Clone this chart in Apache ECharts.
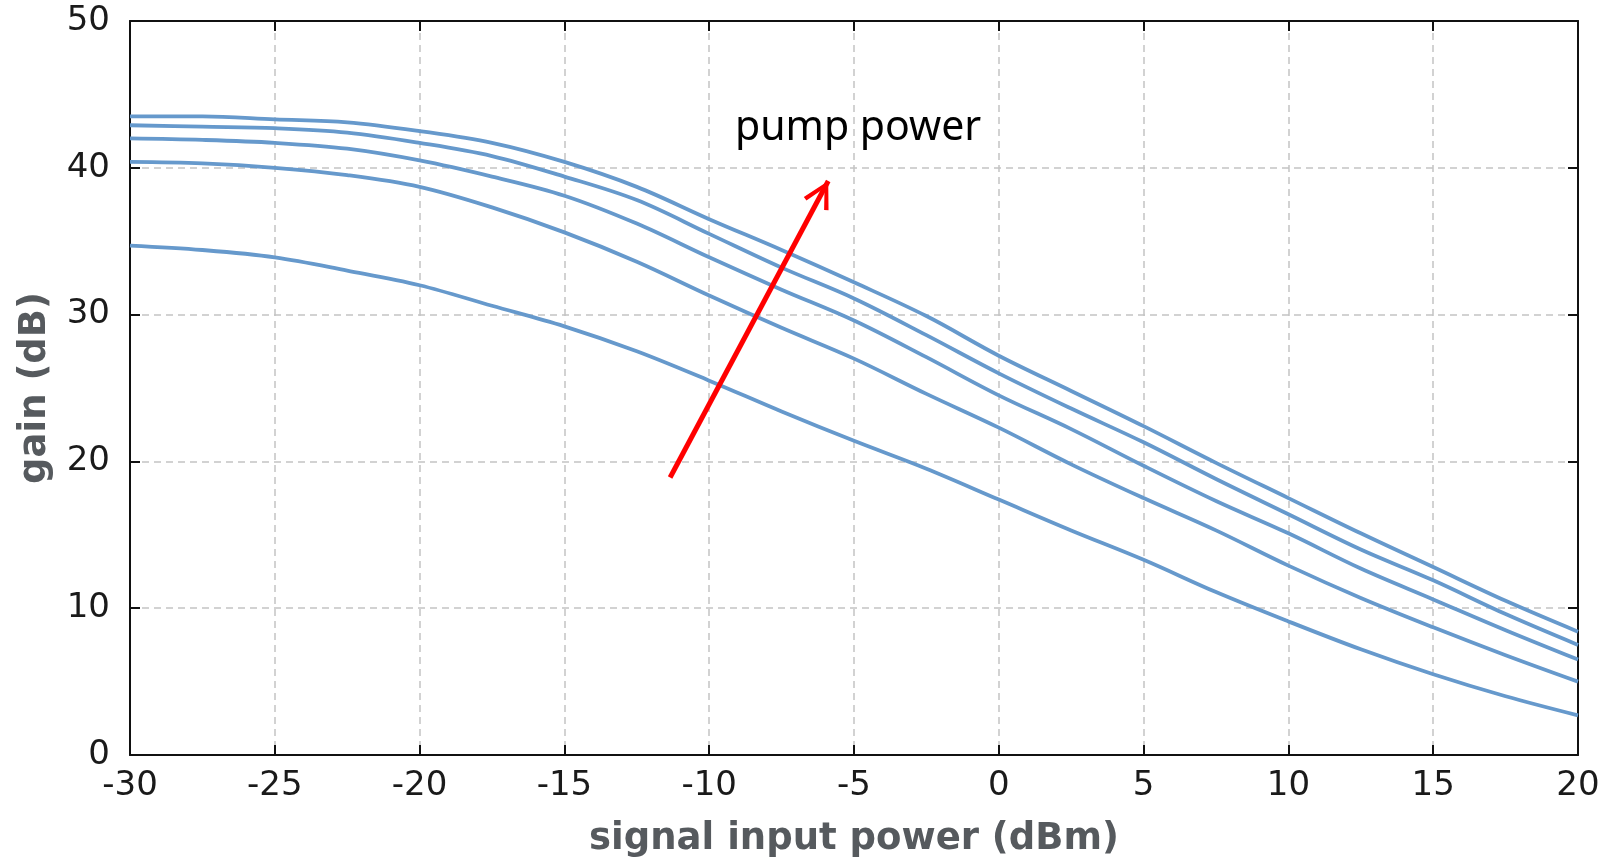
<!DOCTYPE html>
<html>
<head>
<meta charset="utf-8">
<script src="https://cdn.jsdelivr.net/npm/echarts@6/dist/echarts.min.js"></script>
<style>
html,body{margin:0;padding:0;background:#fff;}
#chart{width:1614px;height:863px;}
</style>
</head>
<body>
<div id="chart"></div>
<script>
// signal input power (dBm)
var inputPower = [-30, -27.5, -25, -22.5, -20, -17.5, -15, -12.5, -10, -7.5, -5, -2.5, 0, 2.5, 5, 7.5, 10, 12.5, 15, 17.5, 20];
// gain (dB) curves, from highest pump power to lowest
var gainPump5 = [43.5, 43.5, 43.3, 43.1, 42.5, 41.7, 40.4, 38.7, 36.5, 34.4, 32.2, 29.9, 27.2, 24.8, 22.4, 19.9, 17.5, 15.1, 12.8, 10.5, 8.4];
var gainPump4 = [42.9, 42.8, 42.7, 42.4, 41.7, 40.8, 39.4, 37.8, 35.5, 33.2, 31.1, 28.6, 26.0, 23.6, 21.3, 18.8, 16.4, 14.0, 11.9, 9.6, 7.5];
var gainPump3 = [42.0, 41.9, 41.7, 41.3, 40.5, 39.4, 38.1, 36.2, 33.9, 31.7, 29.6, 27.1, 24.5, 22.2, 19.7, 17.3, 15.1, 12.7, 10.6, 8.5, 6.5];
var gainPump2 = [40.4, 40.3, 40.0, 39.5, 38.7, 37.3, 35.6, 33.6, 31.3, 29.1, 27.0, 24.6, 22.3, 19.8, 17.5, 15.3, 12.9, 10.7, 8.7, 6.8, 5.0];
var gainPump1 = [34.7, 34.4, 33.9, 33.0, 32.0, 30.6, 29.2, 27.5, 25.5, 23.4, 21.4, 19.5, 17.4, 15.3, 13.3, 11.1, 9.1, 7.2, 5.5, 4.0, 2.7];
// arrow annotation (data coordinates): tail -> head
var arrowTail = [-11.35, 18.9];
var arrowHead = [-5.89, 39.1];
var annotationText = 'pump power';
var xTitle = 'signal input power (dBm)';
var yTitle = 'gain (dB)';

var curves = [gainPump5, gainPump4, gainPump3, gainPump2, gainPump1];
function pairs(ys){ return inputPower.map(function(x,i){ return [x, ys[i]]; }); }

var gridLine = {show:true, lineStyle:{color:'#c4c4c4', width:1.5, type:[7,5]}};
var axLine = {show:true, onZero:false, lineStyle:{color:'#111', width:2}};
var tick = {show:true, inside:true, length:10, lineStyle:{color:'#111', width:2}};
var labelFont = {color:'#1a1a1a', fontSize:34, fontFamily:'DejaVu Sans'};
var titleFont = {color:'#565a5e', fontSize:37, fontWeight:'bold', fontFamily:'DejaVu Sans'};

var series = curves.map(function(c){
  return {
    type:'line', data:pairs(c), showSymbol:false, smooth:0.35,
    lineStyle:{color:'#6699cc', width:3.8}, silent:true, animation:false
  };
});

var chevron = 'path://M0,-27.5 L0.01,-27.5 Z M0,0 L14,25.6 L10,27.5 L0,7.8 L-10,27.5 L-14,25.6 Z';
series.push({
  type:'line', data:[], silent:true, animation:false,
  markLine:{
    silent:true, animation:false,
    symbol:['none', chevron], symbolSize:[28,55],
    label:{show:false},
    lineStyle:{color:'#ff0000', width:5, type:'solid'},
    data:[[{coord:arrowTail},{coord:arrowHead}]]
  }
});

var chart = echarts.init(document.getElementById('chart'), null, {renderer:'canvas'});
chart.setOption({
  animation:false,
  backgroundColor:'#ffffff',
  grid:{left:130, right:36, top:21, bottom:104, containLabel:false},
  xAxis:[{
    type:'value', min:-30, max:20, interval:5, position:'bottom',
    axisLine:axLine, axisTick:tick, splitLine:gridLine,
    axisLabel:Object.assign({margin:14}, labelFont),
    name:xTitle, nameLocation:'middle', nameGap:66,
    nameTextStyle:titleFont
  },{
    type:'value', min:-30, max:20, interval:5, position:'top',
    axisLine:axLine, axisTick:tick, splitLine:{show:false}, axisLabel:{show:false}
  }],
  yAxis:[{
    type:'value', min:0, max:50, interval:10, position:'left',
    axisLine:axLine, axisTick:tick, splitLine:gridLine,
    axisLabel:Object.assign({margin:20}, labelFont),
    name:yTitle, nameLocation:'middle', nameGap:76, nameRotate:90,
    nameTextStyle:titleFont
  },{
    type:'value', min:0, max:50, interval:10, position:'right',
    axisLine:axLine, axisTick:tick, splitLine:{show:false}, axisLabel:{show:false}
  }],
  graphic:[{
    type:'text', left:735, top:108, silent:true,
    style:{text:annotationText, font:'41px "Noto Sans"', fill:'#000'}
  }],
  series:series
});
</script>
</body>
</html>
